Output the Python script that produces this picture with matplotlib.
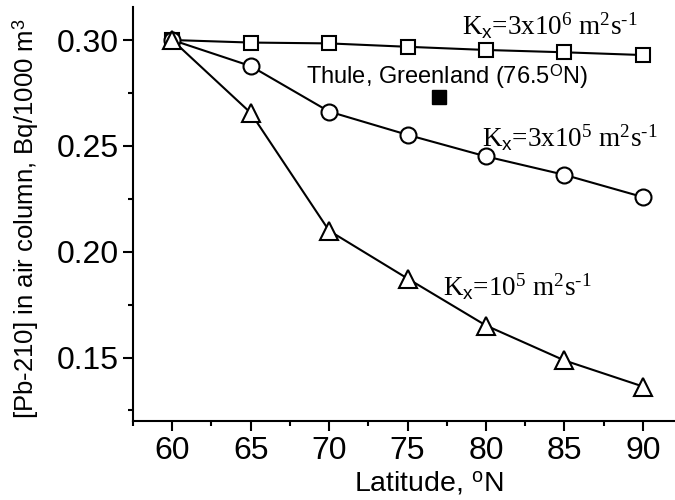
import matplotlib
matplotlib.use("Agg")
import matplotlib.pyplot as plt
from matplotlib.ticker import MultipleLocator

plt.rcParams['font.family'] = ['Liberation Sans', 'DejaVu Sans']
plt.rcParams['mathtext.fontset'] = 'custom'
plt.rcParams['mathtext.rm'] = 'Liberation Serif'
plt.rcParams['mathtext.sf'] = 'Liberation Sans'
plt.rcParams['mathtext.it'] = 'Liberation Serif:italic'

# data
latitude = [60, 65, 70, 75, 80, 85, 90]
kx_3e6 = [0.300, 0.2988, 0.2984, 0.2968, 0.2953, 0.2942, 0.2929]
kx_3e5 = [0.300, 0.2877, 0.2662, 0.2552, 0.2450, 0.2363, 0.2258]
kx_1e5 = [0.300, 0.2656, 0.2099, 0.1873, 0.1651, 0.1486, 0.1363]
thule_lat = [77.0]
thule_val = [0.2733]

fig = plt.figure(figsize=(6.75, 5), dpi=100)
ax = fig.add_axes([0.197, 0.158, 0.802, 0.828])

style = dict(color='black', lw=1.5, mfc='white', mec='black', mew=1.5)
ax.plot(latitude, kx_3e6, marker='s', ms=10.5, **style)
ax.plot(latitude, kx_3e5, marker='o', ms=11.5, **style)
ax.plot(latitude, kx_1e5, marker='^', ms=13, **style)
ax.plot(thule_lat, thule_val, marker='s', ms=10, color='black', ls='none')

ax.set_xlim(57.5, 92)
ax.set_ylim(0.12, 0.3156)
ax.xaxis.set_major_locator(MultipleLocator(5))
ax.xaxis.set_minor_locator(MultipleLocator(2.5))
ax.yaxis.set_minor_locator(MultipleLocator(0.025))
ax.set_yticks([0.15, 0.20, 0.25, 0.30])
ax.set_yticklabels(['0.15', '0.20', '0.25', '0.30'])

for s in ['top', 'right']:
    ax.spines[s].set_visible(False)
for s in ['left', 'bottom']:
    ax.spines[s].set_linewidth(1.5)

ax.tick_params(which='major', length=7, width=1.5, labelsize=23, pad=3)
ax.tick_params(which='minor', length=3.5, width=1.5)
ax.tick_params(axis='x', which='major', pad=4)

ax.set_xlabel(r'Latitude, $^{\mathsf{o}}$N', fontsize=20.5)
ax.xaxis.set_label_coords(0.546, -0.12)
ax.set_ylabel(r'[Pb-210] in air column, Bq/1000 m$^{\mathsf{3}}$', fontsize=18.5)
ax.yaxis.set_label_coords(-0.17, 0.49)

ax.text(68.5, 0.2825, r'Thule, Greenland (76.5$^{\mathsf{O}}$N)', fontsize=17,
        va='center')

serif = dict(family='Liberation Serif', fontsize=19.5)
ax.text(78.5, 0.3026, r'K$_{\mathsf{x}}$=3x10$^{6}$ m$^{2}$s$^{\text{-1}}$', **serif)
ax.text(79.75, 0.2498, r'K$_{\mathsf{x}}$=3x10$^{5}$ m$^{2}$s$^{\text{-1}}$', **serif)
ax.text(77.25, 0.1791, r'K$_{\mathsf{x}}$=10$^{5}$ m$^{2}$s$^{\text{-1}}$', **serif)

fig.savefig('out.png', dpi=100)
